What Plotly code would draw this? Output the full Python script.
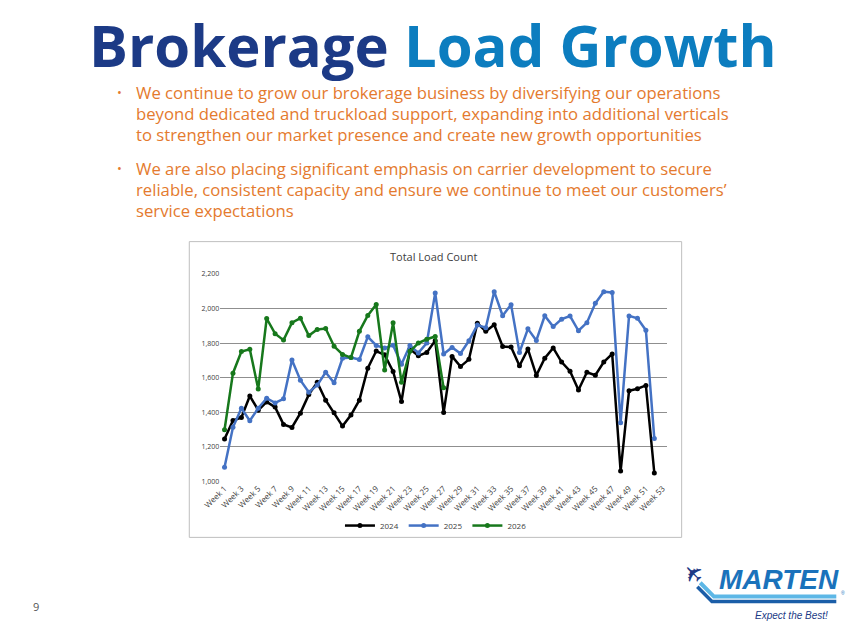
import plotly.graph_objects as go

W, H = 850, 638

def px(x):
    return x / W

def py(y):
    return 1 - y / H

weeks = [f"Week {i}" for i in range(1, 54)]
tick_weeks = [f"Week {i}" for i in range(1, 54, 2)]

load_2024 = [1245, 1352, 1370, 1494, 1412, 1460, 1430, 1330, 1312, 1395,
             1502, 1573, 1470, 1397, 1320, 1384, 1470, 1655, 1754, 1732,
             1636, 1462, 1765, 1726, 1746, 1814, 1398, 1723, 1664, 1706,
             1915, 1868, 1906, 1780, 1777, 1669, 1765, 1613, 1712, 1772,
             1690, 1637, 1529, 1631, 1614, 1690, 1737, 1060, 1524, 1536,
             1555, 1049]
load_2025 = [1082, 1313, 1423, 1351, 1423, 1481, 1454, 1478, 1702, 1585,
             1516, 1557, 1631, 1570, 1712, 1716, 1705, 1836, 1786, 1771,
             1788, 1677, 1786, 1743, 1800, 2090, 1737, 1775, 1740, 1813,
             1904, 1889, 2097, 1958, 2022, 1746, 1882, 1815, 1958, 1895,
             1938, 1956, 1871, 1918, 2030, 2097, 2092, 1340, 1957, 1943,
             1874, 1248]
load_2026 = [1299, 1626, 1751, 1764, 1535, 1942, 1854, 1817, 1918, 1944,
             1843, 1878, 1884, 1781, 1734, 1716, 1868, 1960, 2023, 1644,
             1917, 1574, 1752, 1800, 1822, 1838, 1541]

series = [("2024", load_2024, "#000000"),
          ("2025", load_2025, "#4472C4"),
          ("2026", load_2026, "#17781c")]

bullet1 = ["We continue to grow our brokerage business by diversifying our operations",
           "beyond dedicated and truckload support, expanding into additional verticals",
           "to strengthen our market presence and create new growth opportunities"]
bullet2 = ["We are also placing significant emphasis on carrier development to secure",
           "reliable, consistent capacity and ensure we continue to meet our customers’",
           "service expectations"]

fig = go.Figure()
for name, vals, col in series:
    fig.add_trace(go.Scatter(
        x=weeks[:len(vals)], y=vals, name=name, mode="lines+markers",
        line=dict(color=col, width=2.5),
        marker=dict(color=col, size=5),
    ))

fig.update_layout(
    width=W, height=H,
    margin=dict(l=0, r=0, t=0, b=0),
    paper_bgcolor="white", plot_bgcolor="white",
    showlegend=True,
    legend=dict(orientation="h", x=px(427), xanchor="center", y=py(528), yanchor="middle",
                font=dict(family="Open Sans", size=8, color="#404040"),
                itemwidth=30, bgcolor="rgba(0,0,0,0)", tracegroupgap=0),
    xaxis=dict(domain=[px(206.7), px(663)], type="category",
               categoryorder="array", categoryarray=weeks,
               range=[-0.5, 52.5], tickvals=tick_weeks, ticktext=tick_weeks,
               tickangle=-45, tickfont=dict(family="Open Sans", size=8, color="#404040"),
               showgrid=False, showline=False, ticks="", zeroline=False, fixedrange=True),
    yaxis=dict(domain=[py(483.3), py(272.7)], range=[1000, 2200], dtick=200,
               tickformat=",", tickfont=dict(family="Open Sans", size=7, color="#404040"),
               showgrid=True, gridcolor="#8f8f8f", gridwidth=1, zeroline=False,
               showline=False, ticks="", fixedrange=True),
)

shapes = [
    dict(type="rect", xref="paper", yref="paper", x0=px(175), x1=px(678), y0=py(540), y1=py(240),
         line=dict(color="#bfbfbf", width=1), fillcolor="rgba(0,0,0,0)", layer="below"),
    # logo swoosh
    dict(type="path", xref="paper", yref="paper",
         path=f"M {px(697)},{py(586)} L {px(711)},{py(600)} L {px(836)},{py(600)}",
         line=dict(color="#5db7e6", width=4)),
    dict(type="path", xref="paper", yref="paper",
         path=f"M {px(694)},{py(590)} L {px(709)},{py(605)} L {px(836)},{py(605)}",
         line=dict(color="#1b5ea8", width=3.5)),
]
fig.update_layout(shapes=shapes)

ann = []
ann.append(dict(xref="paper", yref="paper", x=px(424), y=py(40), xanchor="center", yanchor="middle",
                showarrow=False,
                text="<b><span style='color:#1c3a86'>Brokerage</span> <span style='color:#0c7dbf'>Load Growth</span></b>",
                font=dict(family="Open Sans", size=58)))
orange = "#e47a2e"
for i, line in enumerate(bullet1):
    ann.append(dict(xref="paper", yref="paper", x=px(119), y=py(88.5 + i * 21.3), xanchor="left",
                    yanchor="middle", showarrow=False, text=line,
                    font=dict(family="Open Sans", size=16.7, color=orange)))
for i, line in enumerate(bullet2):
    ann.append(dict(xref="paper", yref="paper", x=px(119), y=py(165.5 + i * 21.3), xanchor="left",
                    yanchor="middle", showarrow=False, text=line,
                    font=dict(family="Open Sans", size=16.7, color=orange)))
for yb in (88.5, 165.5):
    ann.append(dict(xref="paper", yref="paper", x=px(104), y=py(yb), xanchor="center",
                    yanchor="middle", showarrow=False, text="•",
                    font=dict(family="Open Sans", size=13, color=orange)))
ann.append(dict(xref="paper", yref="paper", x=px(424), y=py(255), xanchor="center", yanchor="middle",
                showarrow=False, text="Total Load Count",
                font=dict(family="Open Sans", size=11, color="#404040")))
ann.append(dict(xref="paper", yref="paper", x=px(18), y=py(610), xanchor="center", yanchor="middle",
                showarrow=False, text="9", font=dict(family="Open Sans", size=11, color="#555555")))
# logo
ann.append(dict(xref="paper", yref="paper", x=px(777), y=py(583), xanchor="center", yanchor="middle",
                showarrow=False, text="<b><i>MARTEN</i></b>",
                font=dict(family="Liberation Sans", size=28, color="#1a72bb")))
ann.append(dict(xref="paper", yref="paper", x=px(843), y=py(596), xanchor="center", yanchor="middle",
                showarrow=False, text="®", font=dict(family="Liberation Sans", size=5, color="#1a72bb")))
ann.append(dict(xref="paper", yref="paper", x=px(790), y=py(619), xanchor="center", yanchor="middle",
                showarrow=False, text="<i>Expect the Best!</i>",
                font=dict(family="Liberation Sans", size=10, color="#1c3a86")))
ann.append(dict(xref="paper", yref="paper", x=px(690), y=py(576), xanchor="center", yanchor="middle",
                showarrow=False, text="✈", textangle=-135,
                font=dict(family="DejaVu Sans", size=24, color="#1c3a86")))
fig.update_layout(annotations=ann)

fig.write_html("out.html")
